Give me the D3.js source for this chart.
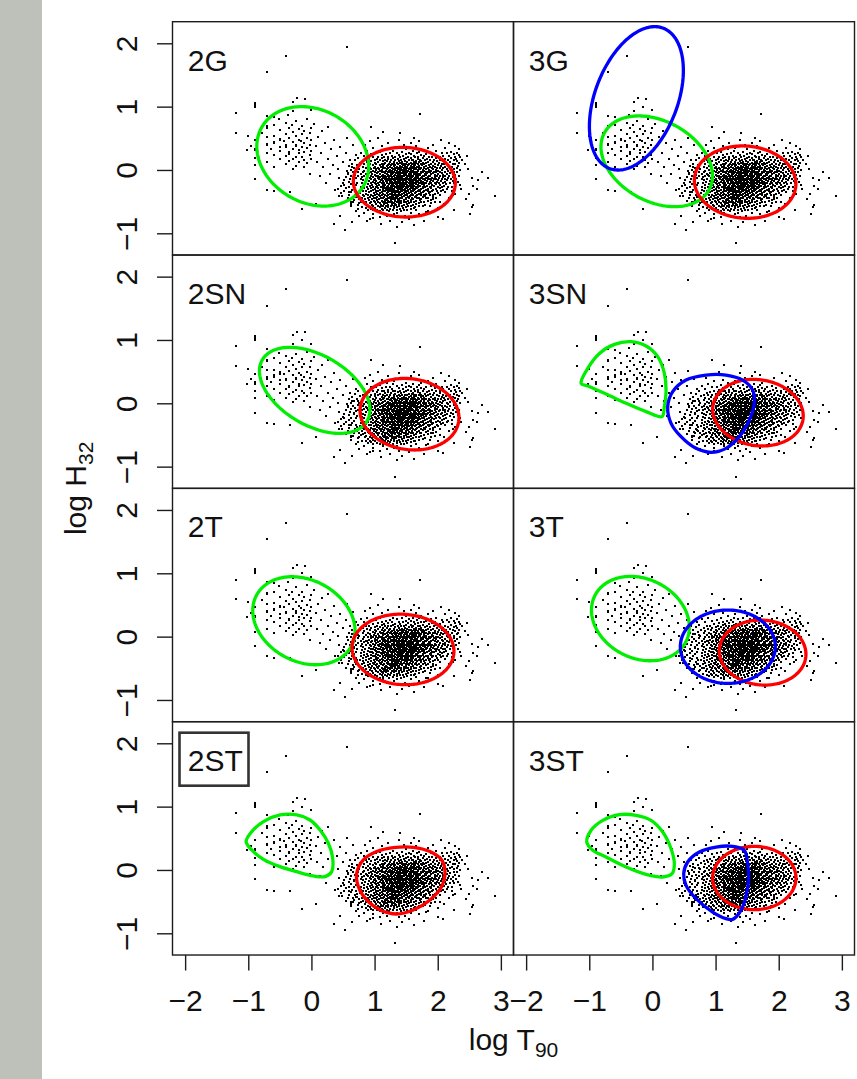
<!DOCTYPE html>
<html>
<head>
<meta charset="utf-8">
<script src="https://cdn.jsdelivr.net/npm/d3@7"></script>
<style>
  html, body { margin: 0; padding: 0; background: #ffffff; }
  svg { display: block; }
  text { font-family: "Liberation Sans", Arial, Helvetica, sans-serif; fill: #111; }
</style>
</head>
<body>
<svg id="chart" width="857" height="1079"></svg>
<script>
// ---- axis ticks and panel names ----
const xTicks = [-2, -1, 0, 1, 2, 3];
const yTicks = [-1, 0, 1, 2];
const xDomain = [-2.2, 3.2];
const yDomain = [-1.343, 2.341];
const panelNames = ["2G", "3G", "2SN", "3SN", "2T", "3T", "2ST", "3ST"];
const bestModel = "2ST";

// ---- bursts: [log T90, log H32] ----
// short bursts (T90 quantised, so many share the same log T90)
const shortBursts = [
  [-1.19,0.90],[-1.19,0.59],[-1.01,0.54],[-1.02,0.31],
  [-0.89,1.06],[-0.89,1.03],[-0.89,1.00],[-0.89,0.47],[-0.89,0.33],[-0.89,0.31],[-0.89,0.19],[-0.89,0.08],[-0.89,-0.15],[-0.95,0.38],
  [-0.71,1.54],[-0.71,0.86],[-0.71,0.69],[-0.71,0.67],[-0.71,0.52],[-0.71,0.41],[-0.71,0.39],[-0.71,0.27],[-0.71,0.12],[-0.71,-0.31],[-0.78,0.58],
  [-0.60,0.84],[-0.59,0.71],[-0.59,0.53],[-0.59,0.44],[-0.59,0.42],[-0.59,0.23],[-0.59,0.05],[-0.60,-0.33],[-0.64,0.33],
  [-0.49,0.63],[-0.49,0.49],[-0.49,0.47],[-0.49,0.30],[-0.49,0.17],[-0.52,0.80],[-0.49,0.36],
  [-0.40,1.80],[-0.41,0.74],[-0.41,0.57],[-0.41,0.39],[-0.41,0.37],[-0.41,0.22],[-0.41,0.09],[-0.44,0.46],
  [-0.35,0.66],[-0.35,0.51],[-0.35,0.28],[-0.35,0.26],[-0.35,0.14],[-0.34,-0.34],[-0.37,0.87],
  [-0.29,1.08],[-0.29,0.93],[-0.29,0.60],[-0.29,0.44],[-0.29,0.33],[-0.29,0.18],[-0.29,0.02],[-0.31,0.71],
  [-0.23,1.13],[-0.24,0.78],[-0.24,0.54],[-0.24,0.40],[-0.24,0.38],[-0.24,0.21],[-0.24,0.07],
  [-0.19,0.65],[-0.19,0.48],[-0.19,0.31],[-0.19,0.12],[-0.19,0.27],
  [-0.15,1.00],[-0.15,0.70],[-0.15,0.57],[-0.15,0.36],[-0.15,0.20],[-0.15,-0.62],[-0.16,0.45],
  [-0.10,1.12],[-0.11,0.62],[-0.11,0.42],[-0.11,0.29],[-0.11,0.04],[-0.11,0.16],
  [-0.07,0.81],[-0.07,0.50],[-0.07,0.34],[-0.07,0.11],
  [-0.03,0.58],[-0.03,0.40],[-0.03,0.24],[-0.03,-0.06],
  [0.00,0.94],[0.00,0.66],[0.00,0.47],[0.00,0.30],[0.00,0.17],
  [0.04,0.73],[0.07,0.38],[0.09,0.12],[0.11,0.52],[0.13,-0.10],[0.15,0.27],[0.17,0.61],[0.19,0.04],
  [0.21,0.42],[0.23,-0.20],[0.26,0.17],[0.27,0.68],[0.29,-0.06],[0.31,0.33],[0.34,0.08],[0.36,0.48],
  [0.38,-0.31],[0.40,0.22],[0.42,0.01],[0.44,-0.13],[0.46,0.36],[0.48,-0.41],[0.50,0.13],[0.52,-0.23],
  [0.54,0.27],[0.56,0.51],[0.58,-0.06],[0.60,-0.34],[0.61,0.16],[0.63,-0.51],[0.64,0.04],[0.66,0.39],
  [0.68,-0.16],[0.70,0.23],[0.72,-0.43],[0.74,0.03],[0.08,-0.53],[0.56,1.94]
];

// sparse long-burst outliers
const longTail = [
  [2.91,-0.41],[2.80,-0.13],[2.70,-0.03],[2.64,-0.16],[2.54,-0.12],[2.43,0.09],[2.56,-0.26],[2.56,-0.55],
  [2.54,-0.58],[2.51,-0.69],[2.08,-0.78],[1.82,-0.66],[0.98,-0.76],[0.88,-0.80],[0.45,-0.73],[0.35,-0.85],
  [0.53,-0.95],[1.32,-1.16],[1.72,0.89],[0.95,0.68],[1.14,0.60],[1.40,0.59],[2.46,0.22],[2.50,-0.38],
  [2.62,-0.30],[2.44,-0.46],[2.48,0.02]
];

// long bursts, listed row by row: [log H32, [log T90 ...]]
const longRows = [
  [0.500,[1.05,1.62]],
  [0.475,[1.38,2.05]],
  [0.450,[0.92,1.71]],
  [0.425,[1.22,1.57,2.18]],
  [0.400,[0.85,1.47,1.93]],
  [0.375,[1.12,1.66,2.27]],
  [0.350,[0.98,1.31,1.84,2.12]],
  [0.325,[1.19,1.50,1.74,2.34]],
  [0.3000,[0.88,1.29,1.61,1.97]],
  [0.2875,[1.08,1.43,1.70,2.21]],
  [0.2750,[0.79,1.36,1.55,1.89,2.30]],
  [0.2625,[1.02,1.24,1.67,2.06,2.14]],
  [0.2500,[0.94,1.18,1.49,1.58,1.81,2.25]],
  [0.2375,[1.11,1.39,1.73,1.95,2.33]],
  [0.2250,[0.83,1.27,1.45,1.62,1.78,2.09,2.18]],
  [0.2125,[1.06,1.21,1.53,1.69,1.91,2.27]],
  [0.2000,[0.97,1.15,1.33,1.41,1.64,1.86,2.03,2.36]],
  [0.1875,[0.74,1.12,1.29,1.50,1.57,1.76,1.98,2.21]],
  [0.1750,[0.91,1.04,1.22,1.37,1.46,1.68,1.83,2.11,2.29]],
  [0.1625,[0.86,1.16,1.26,1.42,1.61,1.72,1.94,2.04,2.38]],
  [0.1500,[0.69,1.01,1.09,1.33,1.54,1.59,1.80,1.88,2.16,2.26]],
  [0.1375,[0.81,0.95,1.13,1.20,1.39,1.48,1.66,1.74,1.99,2.08,2.31]],
  [0.1250,[0.88,1.06,1.25,1.30,1.44,1.52,1.63,1.70,1.85,1.93,2.19]],
  [0.1125,[0.77,1.00,1.17,1.35,1.41,1.58,1.65,1.77,1.82,2.02,2.13,2.34]],
  [0.1000,[0.64,0.92,1.11,1.23,1.31,1.46,1.55,1.62,1.73,1.90,2.07,2.24]],
  [0.0875,[0.84,1.03,1.15,1.28,1.37,1.43,1.50,1.59,1.68,1.79,1.96,2.10,2.28]],
  [0.0750,[0.72,0.97,1.08,1.21,1.26,1.33,1.45,1.53,1.64,1.75,1.86,2.00,2.17]],
  [0.0625,[0.60,0.89,1.13,1.19,1.30,1.40,1.48,1.57,1.62,1.71,1.81,1.92,2.05,2.32]],
  [0.0500,[0.81,1.01,1.10,1.24,1.35,1.44,1.52,1.61,1.67,1.78,1.88,1.95,2.12,2.22]],
  [0.0375,[0.68,0.93,1.05,1.17,1.27,1.32,1.38,1.49,1.56,1.65,1.74,1.84,1.99,2.08,2.30]],
  [0.0250,[0.86,0.99,1.14,1.22,1.34,1.42,1.46,1.51,1.59,1.63,1.70,1.79,1.91,2.03,2.19]],
  [0.0125,[0.76,0.95,1.03,1.07,1.20,1.29,1.37,1.47,1.55,1.62,1.66,1.72,1.82,1.93,2.14,2.26]],
  [0.0000,[0.63,0.90,1.02,1.12,1.25,1.33,1.41,1.44,1.50,1.58,1.68,1.76,1.86,1.98,2.07,2.35]],
  [-0.0125,[0.57,0.84,0.97,1.09,1.18,1.23,1.28,1.36,1.46,1.53,1.57,1.61,1.69,1.78,1.89,2.00,2.16]],
  [-0.0250,[0.73,0.94,1.06,1.15,1.24,1.31,1.35,1.40,1.48,1.56,1.64,1.73,1.81,1.88,1.94,2.04,2.25]],
  [-0.0375,[0.66,0.81,1.00,1.11,1.14,1.21,1.30,1.38,1.45,1.52,1.60,1.67,1.77,1.85,1.97,2.11,2.31]],
  [-0.0500,[0.58,0.91,1.04,1.16,1.26,1.29,1.34,1.43,1.50,1.58,1.62,1.66,1.74,1.83,1.92,2.06,2.20]],
  [-0.0625,[0.78,0.87,0.96,1.08,1.19,1.27,1.37,1.41,1.47,1.55,1.63,1.68,1.71,1.80,1.90,2.01,2.14]],
  [-0.0750,[0.69,0.88,1.01,1.13,1.22,1.26,1.32,1.40,1.49,1.54,1.57,1.65,1.72,1.82,1.95,2.09,2.28]],
  [-0.0875,[0.62,0.83,0.95,1.06,1.17,1.25,1.30,1.35,1.43,1.47,1.51,1.59,1.67,1.77,1.86,1.99,2.18]],
  [-0.1000,[0.74,0.90,1.03,1.12,1.21,1.30,1.35,1.39,1.46,1.54,1.57,1.61,1.69,1.79,1.88,2.03,2.12,2.33]],
  [-0.1125,[0.55,0.80,0.98,1.09,1.13,1.18,1.27,1.36,1.41,1.44,1.52,1.60,1.66,1.75,1.84,1.96,2.08,2.24]],
  [-0.1250,[0.70,0.93,1.05,1.15,1.23,1.28,1.33,1.38,1.42,1.49,1.56,1.64,1.69,1.73,1.81,1.91,2.02,2.16]],
  [-0.1375,[0.61,0.86,1.00,1.11,1.20,1.29,1.34,1.37,1.46,1.50,1.53,1.62,1.70,1.78,1.87,1.98,2.11,2.29]],
  [-0.1500,[0.79,0.95,1.07,1.16,1.19,1.25,1.35,1.40,1.43,1.51,1.58,1.62,1.66,1.76,1.85,1.94,2.06,2.21]],
  [-0.1625,[0.52,0.82,0.99,1.10,1.21,1.26,1.31,1.39,1.44,1.47,1.55,1.59,1.63,1.72,1.80,1.90,2.01,2.15]],
  [-0.1750,[0.67,0.91,1.03,1.14,1.18,1.24,1.33,1.37,1.41,1.49,1.57,1.65,1.69,1.73,1.83,1.93,2.05,2.24]],
  [-0.1875,[0.59,0.85,0.97,1.08,1.19,1.28,1.36,1.41,1.45,1.52,1.56,1.61,1.68,1.77,1.87,1.99,2.12,2.32]],
  [-0.2000,[0.72,0.94,1.05,1.15,1.24,1.28,1.32,1.37,1.40,1.48,1.56,1.60,1.64,1.74,1.82,1.95,2.08,2.19]],
  [-0.2125,[0.50,0.80,1.00,1.11,1.20,1.25,1.30,1.38,1.43,1.46,1.54,1.62,1.66,1.70,1.79,1.89,2.02,2.26]],
  [-0.2250,[0.63,0.89,1.03,1.13,1.23,1.29,1.34,1.42,1.46,1.50,1.58,1.61,1.66,1.75,1.86,1.97,2.13]],
  [-0.2375,[0.71,0.84,0.96,1.07,1.17,1.27,1.36,1.40,1.44,1.52,1.56,1.59,1.68,1.78,1.91,2.04,2.35]],
  [-0.2500,[0.47,0.92,1.04,1.14,1.22,1.26,1.31,1.35,1.39,1.47,1.55,1.60,1.63,1.72,1.83,1.94,2.10]],
  [-0.2625,[0.60,0.79,0.98,1.10,1.15,1.19,1.28,1.37,1.42,1.45,1.53,1.61,1.69,1.80,1.90,2.06,2.22]],
  [-0.2750,[0.68,0.88,1.02,1.12,1.21,1.28,1.33,1.41,1.49,1.53,1.57,1.65,1.76,1.87,2.00,2.17]],
  [-0.2875,[0.54,0.83,0.95,1.06,1.16,1.20,1.25,1.35,1.39,1.43,1.51,1.59,1.67,1.77,1.89,2.03]],
  [-0.3000,[0.42,0.90,1.01,1.13,1.22,1.27,1.31,1.40,1.48,1.56,1.61,1.64,1.74,1.84,1.98,2.14,2.37]],
  [-0.3125,[0.65,0.78,0.97,1.08,1.18,1.24,1.29,1.37,1.42,1.45,1.53,1.62,1.71,1.81,1.93,2.08]],
  [-0.3250,[0.51,0.87,1.03,1.14,1.24,1.33,1.37,1.42,1.50,1.58,1.68,1.78,1.91,2.05,2.23]],
  [-0.3375,[0.70,0.82,0.94,1.06,1.17,1.21,1.27,1.36,1.44,1.48,1.53,1.61,1.72,1.84,1.99]],
  [-0.3500,[0.63,0.91,1.02,1.12,1.21,1.31,1.35,1.40,1.49,1.57,1.66,1.77,1.88,2.12]],
  [-0.3625,[0.47,0.77,0.99,1.09,1.19,1.28,1.33,1.38,1.46,1.55,1.64,1.74,1.86,2.01]],
  [-0.3750,[0.72,0.86,1.04,1.14,1.24,1.27,1.33,1.43,1.52,1.60,1.70,1.82,1.96,2.28]],
  [-0.3875,[0.60,0.81,0.95,1.07,1.17,1.29,1.36,1.39,1.48,1.57,1.67,1.79,1.93]],
  [-0.4000,[0.69,0.90,1.01,1.12,1.22,1.27,1.32,1.42,1.51,1.61,1.73,1.87,2.04,2.24]],
  [-0.4125,[0.44,0.84,0.97,1.08,1.19,1.28,1.34,1.37,1.46,1.56,1.66,1.80]],
  [-0.4250,[0.71,0.93,1.04,1.15,1.24,1.29,1.34,1.43,1.53,1.64,1.76,1.92]],
  [-0.4375,[0.58,0.80,0.99,1.10,1.21,1.30,1.36,1.40,1.50,1.60,1.71,1.85,2.18]],
  [-0.4500,[0.66,0.89,1.02,1.13,1.25,1.28,1.35,1.44,1.55,1.67,1.82,1.98]],
  [-0.4625,[0.75,0.85,0.96,1.07,1.18,1.29,1.33,1.39,1.49,1.61,1.74,1.93]],
  [-0.4750,[0.68,0.91,1.04,1.16,1.20,1.26,1.37,1.47,1.58,1.72,1.90]],
  [-0.4875,[0.55,0.82,0.99,1.11,1.22,1.32,1.38,1.42,1.53,1.66,1.84]],
  [-0.5000,[0.78,0.94,1.06,1.17,1.23,1.28,1.39,1.50,1.62,1.78,2.04]],
  [-0.5125,[0.66,0.87,1.01,1.13,1.24,1.35,1.46,1.58,1.73,1.96]],
  [-0.5250,[0.75,0.93,1.08,1.16,1.20,1.31,1.42,1.55,1.70,1.89]],
  [-0.5375,[0.62,0.85,1.02,1.15,1.27,1.33,1.39,1.52,1.66,2.10]],
  [-0.5500,[0.74,0.96,1.10,1.22,1.28,1.34,1.47,1.61,1.80]],
  [-0.5625,[0.89,1.05,1.12,1.18,1.30,1.43,1.57,1.76]],
  [-0.5750,[0.62,0.98,1.13,1.26,1.39,1.53,1.70,1.88]],
  [-0.5875,[0.80,0.92,1.08,1.22,1.36,1.49,1.64]],
  [-0.6000,[0.86,1.01,1.16,1.30,1.45,1.62,2.00]],
  [-0.6125,[0.73,0.95,1.11,1.25,1.40,1.57]],
  [-0.6250,[0.90,1.04,1.20,1.35,1.52,2.26]],
  [-0.6375,[0.98,1.14,1.29,1.47,1.66]],
  [-0.6500,[0.70,1.08,1.23,1.42,1.84]],
  [-0.6750,[0.84,1.14,1.35,1.58]],
  [-0.7000,[0.98,1.30,1.70]],
  [-0.7250,[0.76,1.20,1.48]],
  [-0.7500,[1.08,1.38,2.00]],
  [-0.7750,[0.92,1.55]],
  [-0.8000,[1.25,1.78]],
  [-0.8250,[0.64,1.44]],
  [-0.8500,[1.10]],
  [-0.8750,[1.62]],
  [-0.9000,[1.36]]
];

// ---- fitted components ----
// elliptical contours: [panel, component, centre T90, centre H32, half-width, half-height, correlation]
const ellipseComponents = [
  ["2G",  "short", 0.021,  0.215, 0.886, 0.785, -0.20],
  ["2G",  "long",  1.471, -0.193, 0.807, 0.550, -0.03],
  ["3G",  "short", 0.068,  0.137, 0.883, 0.716, -0.32],
  ["3G",  "long",  1.468, -0.192, 0.804, 0.571, -0.05],
  ["3G",  "inter",-0.254,  1.131, 0.744, 1.132,  0.39],
  ["2SN", "short", 0.052,  0.204, 0.875, 0.679, -0.45],
  ["2SN", "long",  1.553, -0.172, 0.783, 0.565, -0.10],
  ["3SN", "long",  1.671, -0.148, 0.717, 0.526, -0.10],
  ["2T",  "short",-0.119,  0.251, 0.810, 0.695, -0.23],
  ["2T",  "long",  1.450, -0.202, 0.807, 0.557, -0.05],
  ["3T",  "short",-0.190,  0.285, 0.775, 0.666, -0.20],
  ["3T",  "long",  1.745, -0.252, 0.686, 0.513, -0.05],
  ["3T",  "inter", 1.194, -0.159, 0.752, 0.579,  0.00],
  ["3ST", "long",  1.613, -0.127, 0.660, 0.500,  0.00]
];

// skewed contours, traced as closed outlines: [panel, component, [[T90, H32], ...]]
const skewComponents = [
  ["3SN", "short", [[-1.129,0.315],[-1.024,0.552],[-0.839,0.788],[-0.602,0.931],[-0.338,0.973],[-0.101,0.904],
                    [0.084,0.736],[0.189,0.473],[0.216,0.210],[0.189,-0.054],[0.152,-0.211],[-0.101,-0.132],
                    [-0.417,0.000],[-0.734,0.146],[-1.024,0.273]]],
  ["3SN", "inter", [[0.242,-0.054],[0.321,0.183],[0.532,0.367],[0.849,0.446],[1.165,0.446],[1.429,0.367],
                    [1.587,0.210],[1.613,-0.001],[1.534,-0.264],[1.376,-0.527],[1.165,-0.711],[0.928,-0.774],
                    [0.690,-0.711],[0.453,-0.527],[0.295,-0.317]]],
  ["2ST", "short", [[-1.034,0.447],[-0.945,0.605],[-0.760,0.763],[-0.496,0.868],[-0.233,0.868],[-0.022,0.789],
                    [0.137,0.631],[0.268,0.421],[0.337,0.184],[0.321,-0.027],[0.216,-0.105],[0.031,-0.095],
                    [-0.233,-0.027],[-0.496,0.052],[-0.760,0.168],[-0.945,0.316]]],
  ["2ST", "long",  [[0.717,-0.053],[0.822,0.158],[1.033,0.290],[1.297,0.352],[1.613,0.358],[1.877,0.290],
                    [2.062,0.158],[2.115,-0.027],[2.062,-0.263],[1.877,-0.474],[1.613,-0.632],[1.350,-0.695],
                    [1.086,-0.632],[0.875,-0.474],[0.743,-0.263]]],
  ["3ST", "short", [[-1.040,0.441],[-0.971,0.626],[-0.786,0.783],[-0.523,0.873],[-0.259,0.862],[-0.022,0.783],
                    [0.163,0.599],[0.295,0.336],[0.347,0.099],[0.311,-0.059],[0.163,-0.111],[-0.101,-0.069],
                    [-0.417,0.047],[-0.734,0.204],[-0.945,0.310]]],
  ["3ST", "inter", [[1.455,0.310],[1.508,0.099],[1.524,-0.111],[1.492,-0.374],[1.402,-0.638],[1.270,-0.780],
                    [1.165,-0.769],[0.954,-0.664],[0.690,-0.453],[0.532,-0.243],[0.495,-0.059],[0.558,0.126],
                    [0.743,0.283],[1.007,0.362],[1.270,0.373]]]
];

// ---- styling ----
const componentOrder = ["short", "long", "inter"];
const componentColor = { short: "#00ee00", long: "#ff0000", inter: "#0000ff" };
const fontSize = 30;
const inkColor = "#1c1c1c";

// ---- layout ----
const width = 857, height = 1079;
const colLeft = [172.5, 513.5];
const panelW = 341;
const rowTop = 21.7;
const panelH = 233.33;
const tickLen = 15.5;

const svg = d3.select("#chart");

// grey strip along the left edge
svg.append("rect").attr("x", 0).attr("y", 0).attr("width", 42).attr("height", height).attr("fill", "#bec1ba");

const xScales = colLeft.map(x0 => d3.scaleLinear().domain(xDomain).range([x0, x0 + panelW]));
const yScales = d3.range(4).map(r => d3.scaleLinear().domain(yDomain).range([rowTop + (r + 1) * panelH, rowTop + r * panelH]));

// every burst as [T90, H32]
const bursts = shortBursts
  .concat(longTail)
  .concat(longRows.flatMap(([h, ts]) => ts.map(t => [t, h])));

function ellipsePoints(cx, cy, hx, hy, rho) {
  const s = Math.sqrt(1 - rho * rho);
  return d3.range(0, 180).map(i => {
    const t = (i / 180) * 2 * Math.PI;
    return [cx + hx * Math.cos(t), cy + hy * (rho * Math.cos(t) + s * Math.sin(t))];
  });
}

panelNames.forEach((name, i) => {
  const c = i % 2, r = Math.floor(i / 2);
  const xs = xScales[c], ys = yScales[r];
  const x0 = colLeft[c], y0 = rowTop + r * panelH;
  const g = svg.append("g").attr("class", "panel");

  g.append("clipPath").attr("id", "clip" + i)
    .append("rect").attr("x", x0).attr("y", y0).attr("width", panelW).attr("height", panelH);

  // scatter of bursts
  g.append("g").attr("clip-path", `url(#clip${i})`)
    .selectAll("rect").data(bursts).join("rect")
    .attr("x", d => Math.round(xs(d[0])) - 1)
    .attr("y", d => Math.round(ys(d[1])) - 1)
    .attr("width", 2).attr("height", 2)
    .attr("fill", "#000")
    .attr("shape-rendering", "crispEdges");

  // component contours
  const contours = [];
  ellipseComponents.filter(e => e[0] === name).forEach(e =>
    contours.push({ comp: e[1], pts: ellipsePoints(e[2], e[3], e[4], e[5], e[6]), smooth: false }));
  skewComponents.filter(e => e[0] === name).forEach(e =>
    contours.push({ comp: e[1], pts: e[2], smooth: true }));
  contours.sort((a, b) => componentOrder.indexOf(a.comp) - componentOrder.indexOf(b.comp));

  const cg = g.append("g").attr("clip-path", `url(#clip${i})`);
  contours.forEach(ct => {
    const line = d3.line().x(d => xs(d[0])).y(d => ys(d[1]))
      .curve(ct.smooth ? d3.curveCatmullRomClosed.alpha(0.5) : d3.curveLinearClosed);
    cg.append("path").attr("d", line(ct.pts))
      .attr("fill", "none").attr("stroke", componentColor[ct.comp])
      .attr("stroke-width", 3.3).attr("stroke-linejoin", "round");
  });

  // panel frame
  g.append("rect").attr("x", x0).attr("y", y0).attr("width", panelW).attr("height", panelH)
    .attr("fill", "none").attr("stroke", inkColor).attr("stroke-width", 1.4);

  // model label
  const lx = x0 + 15.3, ly = y0 + 49;
  g.append("text").attr("x", lx).attr("y", ly).attr("font-size", fontSize).text(name);
  if (name === bestModel) {
    g.append("rect").attr("x", x0 + 7).attr("y", y0 + 11).attr("width", 69).attr("height", 53)
      .attr("fill", "none").attr("stroke", "#333").attr("stroke-width", 2.6);
  }

  // left axis on the first column
  if (c === 0) {
    const ax = g.append("g").attr("transform", `translate(${x0},0)`)
      .call(d3.axisLeft(ys).tickValues(yTicks).tickSize(tickLen).tickFormat(d3.format("d")));
    ax.select(".domain").remove();
    ax.selectAll(".tick line").attr("stroke", inkColor).attr("stroke-width", 1.4);
    ax.selectAll(".tick text")
      .attr("x", null).attr("dy", null).attr("y", null)
      .attr("text-anchor", "middle")
      .attr("transform", "translate(-36,0) rotate(-90)")
      .attr("font-size", fontSize).attr("font-family", null).attr("fill", "#111");
  }
  // bottom axis on the last row
  if (r === 3) {
    const ax = g.append("g").attr("transform", `translate(0,${y0 + panelH})`)
      .call(d3.axisBottom(xs).tickValues(xTicks).tickSize(tickLen).tickFormat(d3.format("d")));
    ax.select(".domain").remove();
    ax.selectAll(".tick line").attr("stroke", inkColor).attr("stroke-width", 1.4);
    ax.selectAll(".tick text")
      .attr("y", 56).attr("dy", null)
      .attr("font-size", fontSize).attr("font-family", null).attr("fill", "#111");
  }
});

// axis titles
const xTitle = svg.append("text").attr("x", (colLeft[0] + colLeft[1] + panelW) / 2).attr("y", 1050)
  .attr("text-anchor", "middle").attr("font-size", fontSize);
xTitle.append("tspan").text("log T");
xTitle.append("tspan").attr("font-size", fontSize * 0.7).attr("dy", 7).text("90");

const yTitle = svg.append("text")
  .attr("transform", `translate(86,${rowTop + 2 * panelH}) rotate(-90)`)
  .attr("text-anchor", "middle").attr("font-size", fontSize);
yTitle.append("tspan").text("log H");
yTitle.append("tspan").attr("font-size", fontSize * 0.7).attr("dy", 7).text("32");
</script>
</body>
</html>
